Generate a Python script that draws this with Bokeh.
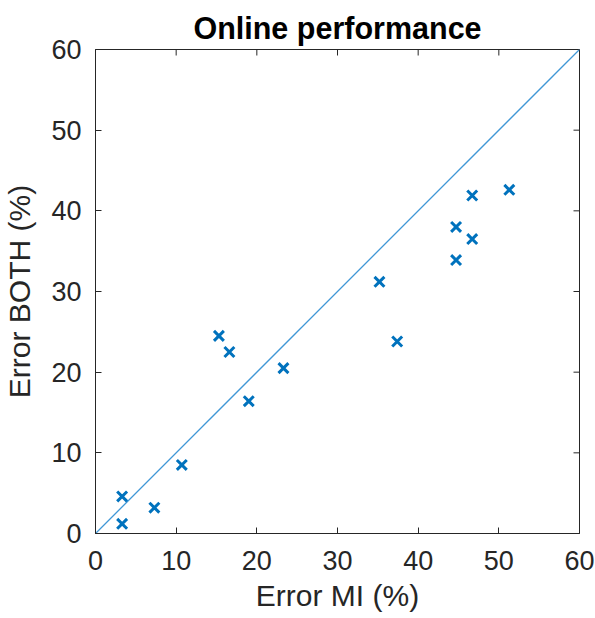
import math
from bokeh.plotting import figure
from bokeh.models import Range1d, FixedTicker
from bokeh.embed import file_html
from bokeh.resources import INLINE

# Data
error_mi = [3.3, 3.3, 7.3, 10.7, 15.3, 16.6, 19.0, 23.3, 35.2, 37.4, 44.7, 44.7, 46.7, 46.7, 51.3]
error_both = [4.6, 1.2, 3.2, 8.5, 24.5, 22.5, 16.4, 20.5, 31.2, 23.8, 38.0, 33.9, 41.9, 36.5, 42.6]
identity_x = [0, 60]
identity_y = [0, 60]
ticks = [0, 10, 20, 30, 40, 50, 60]
axis_max = 60

AX = "#262626"
FONT = "Liberation Sans"

p = figure(width=595, height=618, output_backend="svg", toolbar_location=None,
           x_range=Range1d(0, axis_max), y_range=Range1d(0, axis_max),
           title="Online performance",
           min_border_left=95, min_border_right=16, min_border_top=49, min_border_bottom=85,
           background_fill_color="white", border_fill_color="white")

p.title.align = "center"
p.title.text_font = FONT
p.title.text_font_size = "30.5px"
p.title.text_font_style = "bold"
p.title.text_color = "black"

p.xgrid.visible = False
p.ygrid.visible = False
p.outline_line_color = AX
p.outline_line_width = 1

for ax in (p.xaxis[0], p.yaxis[0]):
    ax.ticker = FixedTicker(ticks=ticks)
    ax.major_tick_in = 6
    ax.major_tick_out = 0
    ax.minor_tick_line_color = None
    ax.axis_line_color = AX
    ax.major_tick_line_color = AX
    ax.major_label_text_font = FONT
    ax.major_label_text_font_size = "27px"
    ax.major_label_text_color = AX
    ax.axis_label_text_font = FONT
    ax.axis_label_text_font_size = "30px"
    ax.axis_label_text_font_style = "normal"
    ax.axis_label_text_color = AX

p.xaxis[0].axis_label = "Error MI (%)"
p.yaxis[0].axis_label = "Error BOTH (%)"
p.xaxis[0].major_label_standoff = 17
p.xaxis[0].axis_label_standoff = 6
p.yaxis[0].major_label_standoff = 14
p.yaxis[0].axis_label_standoff = 12

# inward ticks on the top and right edges of the box
top_y = [axis_max] * len(ticks)
right_x = [axis_max] * len(ticks)
p.ray(x=ticks, y=top_y, length=6, length_units="screen", angle=-math.pi / 2,
      line_color=AX, line_width=1)
p.ray(x=right_x, y=ticks, length=6, length_units="screen", angle=math.pi,
      line_color=AX, line_width=1)

p.line(identity_x, identity_y, line_color="#4097d6", line_width=1.3)
p.scatter(error_mi, error_both, marker="x", size=14, line_color="#0072BD", line_width=3)

open("out.html", "w").write(file_html(p, INLINE))
